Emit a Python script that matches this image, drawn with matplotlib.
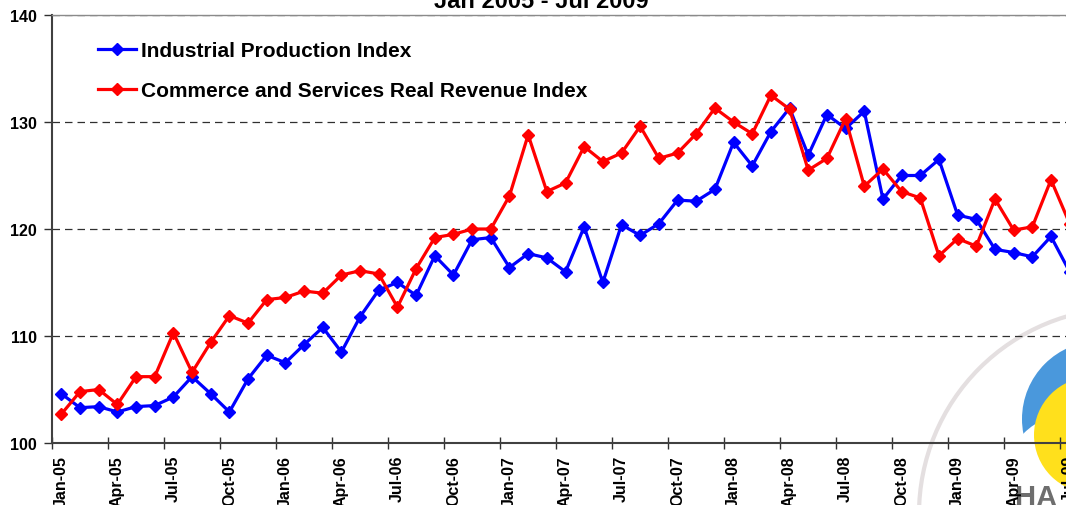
import matplotlib
matplotlib.use("Agg")
import matplotlib.pyplot as plt
from matplotlib.patches import Circle

# monthly index values, Jan 2005 - Jul 2009
industrial = [104.6, 103.3, 103.4, 102.9, 103.4, 103.5, 104.3, 106.2, 104.6, 102.9,
              106.0, 108.2, 107.5, 109.2, 110.8, 108.5, 111.8, 114.3, 115.0, 113.8,
              117.5, 115.7, 119.0, 119.2, 116.4, 117.7, 117.3, 116.0, 120.2, 115.0,
              120.4, 119.4, 120.5, 122.7, 122.6, 123.7, 128.1, 125.9, 129.1, 131.3,
              126.9, 130.7, 129.4, 131.0, 122.8, 125.0, 125.0, 126.5, 121.3, 120.9,
              118.1, 117.8, 117.4, 119.3, 116.0]
commerce = [102.7, 104.8, 105.0, 103.6, 106.2, 106.2, 110.3, 106.6, 109.4, 111.9,
            111.2, 113.4, 113.6, 114.2, 114.0, 115.7, 116.1, 115.8, 112.7, 116.3,
            119.2, 119.5, 120.0, 120.0, 123.1, 128.8, 123.5, 124.3, 127.7, 126.3,
            127.1, 129.6, 126.6, 127.1, 128.9, 131.3, 130.0, 128.9, 132.5, 131.2,
            125.5, 126.6, 130.3, 124.0, 125.6, 123.5, 122.9, 117.5, 119.1, 118.4,
            122.8, 119.9, 120.2, 124.6, 120.5]
tick_labels = ["Jan-05", "Apr-05", "Jul-05", "Oct-05", "Jan-06", "Apr-06", "Jul-06",
               "Oct-06", "Jan-07", "Apr-07", "Jul-07", "Oct-07", "Jan-08", "Apr-08",
               "Jul-08", "Oct-08", "Jan-09", "Apr-09", "Jul-09"]
y_ticks = [100, 110, 120, 130, 140]

plt.rcParams["font.family"] = ["Liberation Sans", "DejaVu Sans"]
plt.rcParams["font.weight"] = "bold"

W, H = 1066, 506
fig = plt.figure(figsize=(W / 100, H / 100), dpi=100)

# faint logo in the background (bottom right)
bg = fig.add_axes([0, 0, 1, 1], zorder=0)
bg.set_xlim(0, W)
bg.set_ylim(H, 0)
bg.axis("off")
bg.add_patch(Circle((1100, 420), 78, color="#4a98dc", lw=0))
bg.add_patch(Circle((1070, 480), 65, color="white", lw=0))
bg.add_patch(Circle((1092, 436), 58, color="#ffe01c", lw=0))
bg.add_patch(Circle((1125, 515), 206, fill=False, ec="#e4dfe0", lw=3))
bg.text(1015, 484, "HA", fontsize=21, color="#6e6e6e", va="top", ha="left")

# plot area: right edge runs past the picture, as in the original
ax = fig.add_axes([52 / W, 1 - 444 / H, 1027 / W, 428 / H], zorder=1)
ax.patch.set_alpha(0)

x = list(range(len(industrial)))
ax.plot(x, industrial, "-D", color="#0000ff", lw=2.3, ms=6.5,
        label="Industrial Production Index")
ax.plot(x, commerce, "-D", color="#ff0000", lw=2.3, ms=6.5,
        label="Commerce and Services Real Revenue Index")

ax.set_xlim(-0.5, len(industrial) - 0.5)
ax.set_ylim(100, 140)
ax.set_yticks(y_ticks)
ax.set_yticklabels([str(v) for v in y_ticks], fontsize=11.5, fontweight="bold")
ax.grid(axis="y", linestyle=(0, (6, 4)), color="#303030", lw=0.9)

# category axis: ticks between months, labels on every third month
ax.set_xticks([i - 0.5 for i in range(0, len(industrial), 3)])
ax.set_xticklabels([])
ax.set_xticks(list(range(0, len(industrial), 3)), minor=True)
ax.set_xticklabels(tick_labels, minor=True, rotation=90, fontsize=11.5,
                   fontweight="bold", va="top")
ax.tick_params(axis="x", which="major", direction="inout", length=9, width=1,
               color="#303030")
ax.tick_params(axis="x", which="minor", length=0, pad=8.6)
ax.tick_params(axis="y", direction="out", length=6, width=1, pad=5, color="#303030")

for side in ["left", "bottom"]:
    ax.spines[side].set_color("#404040")
    ax.spines[side].set_linewidth(1.5)
ax.spines["top"].set_color("#8a8a8a")
ax.spines["top"].set_linewidth(1)
ax.spines["right"].set_visible(False)

ax.legend(loc="upper left", bbox_to_anchor=(98 / W, 1 - 42 / H),
          bbox_transform=fig.transFigure, frameon=False,
          handlelength=1.8, handletextpad=0.25, labelspacing=1.0,
          borderpad=0, borderaxespad=0, prop={"weight": "bold", "size": 15})

fig.text(541 / W, 1 - 8 / H, "Jan 2005 - Jul 2009", ha="center", va="baseline",
         fontsize=17, fontweight="bold")

plt.savefig("out.png", dpi=100)
